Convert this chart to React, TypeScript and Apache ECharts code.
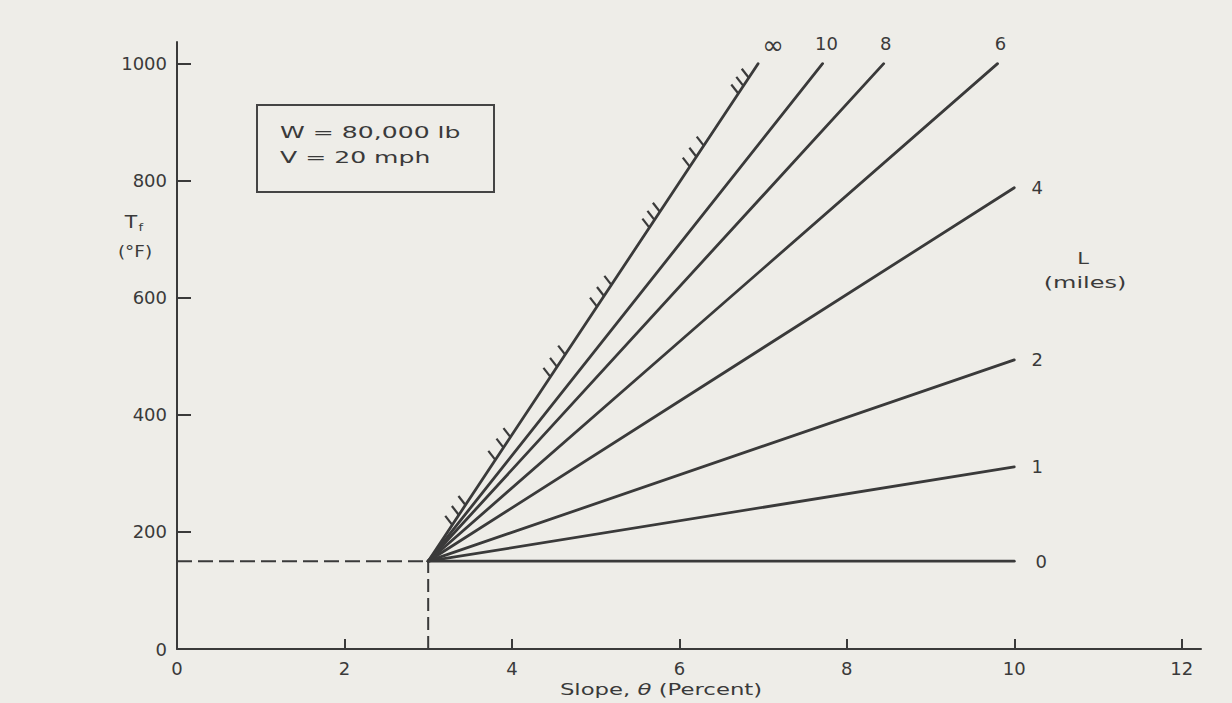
import React, { useEffect, useRef } from "react";
import * as echarts from "echarts";

// ---- data ----
const lineNames = ["∞", "10", "8", "6", "4", "2", "1", "0"];
const pivot = [3, 150]; // common origin of all lines (slope %, °F)
const endSlope = [6.94, 7.71, 8.44, 9.8, 10, 10, 10, 10];
const endTemp = [1000, 1000, 1000, 1000, 788, 494, 311, 150];
// hatch marks along the L = ∞ line (temperature where each hatch sits)
const hatchTemps = [
  212, 229, 246, 323, 344, 362, 465, 482, 503, 585, 603, 622, 720, 733, 747,
  824, 841, 860, 949, 962, 976,
];
const xTicks = [0, 2, 4, 6, 8, 10, 12];
const yTicks = [0, 200, 400, 600, 800, 1000];
const boxLines = ["W = 80,000 lb", "V = 20 mph"];

const FONT = '"DejaVu Sans", "Liberation Sans", sans-serif';
const INK = "#3a3a3a";
const BG = "#eeede8";

// label offsets (pixels) for the L values at the line ends
const labelOffsets: number[][] = [
  [15, -19],
  [4, -20],
  [2, -20],
  [3, -20],
  [23, 0],
  [23, 0],
  [23, 0],
  [27, 0],
];

export default function App() {
  const ref = useRef<HTMLDivElement>(null);

  useEffect(() => {
    if (!ref.current) return;
    const chart = echarts.init(ref.current, null, { renderer: "svg" });

    const infSlopeAt = (t: number) =>
      pivot[0] + ((t - pivot[1]) * (endSlope[0] - pivot[0])) / (endTemp[0] - pivot[1]);
    const hatchData = hatchTemps.map((t) => [infSlopeAt(t), t]);

    const fanSeries = lineNames.map((name, i) => ({
      type: "line",
      name: "L=" + name,
      data: [
        [pivot[0], pivot[1]],
        [endSlope[i], endTemp[i]],
      ],
      symbol: "none",
      lineStyle: { color: INK, width: 2.8, cap: "round" },
      z: 3,
    }));

    const axisLabelStyle = {
      margin: 10,
      fontSize: 18,
      fontFamily: FONT,
      color: INK,
      formatter: (v: number) => String(v),
    };

    const option: any = {
      animation: false,
      backgroundColor: BG,
      grid: { left: 177, top: 42, right: 31, bottom: 54 },
      xAxis: {
        type: "value",
        min: 0,
        max: 12.23,
        splitLine: { show: false },
        axisLine: { lineStyle: { color: INK, width: 2 } },
        axisTick: {
          inside: true,
          length: 10,
          customValues: xTicks,
          lineStyle: { color: INK, width: 2 },
        },
        axisLabel: { ...axisLabelStyle, customValues: xTicks },
      },
      yAxis: {
        type: "value",
        min: 0,
        max: 1037,
        splitLine: { show: false },
        axisLine: { lineStyle: { color: INK, width: 2 } },
        axisTick: {
          inside: true,
          length: 14,
          customValues: yTicks,
          lineStyle: { color: INK, width: 2 },
        },
        axisLabel: { ...axisLabelStyle, customValues: yTicks },
      },
      series: [
        ...fanSeries,
        {
          type: "line",
          name: "dash-h",
          data: [
            [0, pivot[1]],
            [pivot[0], pivot[1]],
          ],
          symbol: "none",
          lineStyle: { color: INK, width: 2, type: [15, 6] },
        },
        {
          type: "line",
          name: "dash-v",
          data: [
            [pivot[0], 0],
            [pivot[0], pivot[1]],
          ],
          symbol: "none",
          lineStyle: { color: INK, width: 2, type: [13, 6] },
        },
        {
          type: "custom",
          name: "hatches",
          data: hatchData,
          renderItem: (params: any, api: any) => {
            const p = api.coord([api.value(0), api.value(1)]);
            return {
              type: "line",
              shape: { x1: p[0], y1: p[1], x2: p[0] - 7, y2: p[1] - 9 },
              style: { stroke: INK, lineWidth: 2.2 },
            };
          },
          z: 4,
        },
        {
          type: "scatter",
          name: "labels",
          symbolSize: 0,
          itemStyle: { opacity: 1, color: INK },
          data: lineNames.map((n, i) => ({
            value: [endSlope[i], endTemp[i]],
            name: n,
            label: {
              show: true,
              position: "inside",
              offset: labelOffsets[i],
              formatter: n,
              fontSize: n === "∞" ? 26 : 18,
              fontFamily: FONT,
              color: INK,
              opacity: 1,
            },
          })),
          z: 5,
        },
      ],
      graphic: [
        {
          type: "rect",
          shape: { x: 257, y: 105, width: 237, height: 87 },
          style: { fill: "none", stroke: "#444", lineWidth: 2 },
        },
        ...boxLines.map((t, i) => ({
          type: "text",
          x: 280,
          y: 133 + i * 25,
          scaleX: 1.62,
          style: {
            text: t,
            fill: INK,
            font: `15.5px ${FONT}`,
            verticalAlign: "middle",
          },
        })),
        {
          type: "text",
          x: 134,
          y: 222,
          scaleX: 1.2,
          style: {
            text: "{t|T}{s|f}",
            align: "center",
            verticalAlign: "middle",
            fill: INK,
            rich: {
              t: { fontSize: 17, fontFamily: FONT, fill: INK },
              s: { fontSize: 11, fontFamily: FONT, fill: INK, padding: [10, 0, 0, 1] },
            },
          },
        },
        {
          type: "text",
          x: 135,
          y: 251,
          scaleX: 1.15,
          style: {
            text: "(°F)",
            align: "center",
            verticalAlign: "middle",
            fill: INK,
            font: `16px ${FONT}`,
          },
        },
        {
          type: "text",
          x: 1083,
          y: 259,
          scaleX: 1.4,
          style: {
            text: "L",
            align: "center",
            verticalAlign: "middle",
            fill: INK,
            font: `15px ${FONT}`,
          },
        },
        {
          type: "text",
          x: 1085,
          y: 283,
          scaleX: 1.55,
          style: {
            text: "(miles)",
            align: "center",
            verticalAlign: "middle",
            fill: INK,
            font: `15.5px ${FONT}`,
          },
        },
        {
          type: "text",
          x: 661,
          y: 690,
          scaleX: 1.38,
          style: {
            text: "Slope, {i|θ} (Percent)",
            align: "center",
            verticalAlign: "middle",
            fill: INK,
            font: `16.5px ${FONT}`,
            rich: {
              i: { fontSize: 16.5, fontFamily: FONT, fontStyle: "italic", fill: INK },
            },
          },
        },
      ],
    };

    chart.setOption(option);
    return () => chart.dispose();
  }, []);

  return (
    <div
      ref={ref}
      style={{ position: "fixed", left: 0, top: 0, width: 1232, height: 703 }}
    />
  );
}
